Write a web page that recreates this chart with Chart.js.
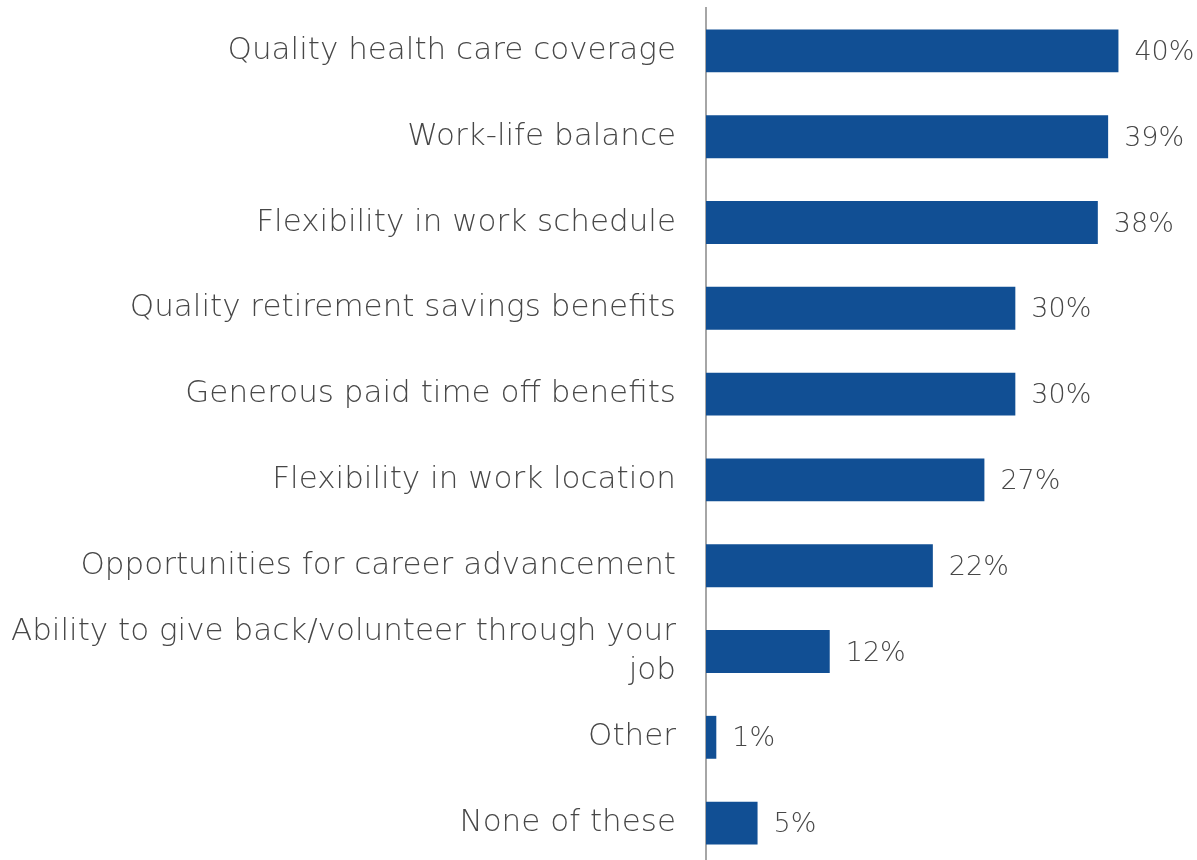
<!DOCTYPE html>
<html>
<head>
<meta charset="utf-8">
<script src="https://cdn.jsdelivr.net/npm/chart.js@4"></script>
<style>
  html, body { margin: 0; padding: 0; background: #fff; overflow: hidden; }
  #wrap { width: 1197px; height: 866px; position: relative; }
</style>
</head>
<body>
<div id="wrap"><canvas id="bars"></canvas></div>
<script>
// Benefit categories, top to bottom
const categories = [
    'Quality health care coverage',
    'Work-life balance',
    'Flexibility in work schedule',
    'Quality retirement savings benefits',
    'Generous paid time off benefits',
    'Flexibility in work location',
    'Opportunities for career advancement',
    ['Ability to give back/volunteer through your', 'job'],
    'Other',
    'None of these'
];

// Share of respondents, in percent
const shares = [40, 39, 38, 30, 30, 27, 22, 12, 1, 5];

const barColor = '#114f94';
const textColor = '#474747';
const fontFamily = '"DejaVu Sans", sans-serif';
const fontWeight = 200;

// Write the percent value just past the end of each bar
const valueLabels = {
    id: 'valueLabels',
    afterDatasetsDraw(chart) {
        const ctx = chart.ctx;
        const meta = chart.getDatasetMeta(0);
        ctx.save();
        ctx.font = fontWeight + ' 27px ' + fontFamily;
        ctx.fillStyle = textColor;
        ctx.textAlign = 'left';
        ctx.textBaseline = 'middle';
        meta.data.forEach((bar, i) => {
            ctx.fillText(shares[i] + '%', bar.x + 16, bar.y + 2);
        });
        ctx.restore();
    }
};

const ctx = document.getElementById('bars').getContext('2d');
const chart = new Chart(ctx, {
    type: 'bar',
    data: {
        labels: categories,
        datasets: [
            {
                data: shares,
                backgroundColor: barColor,
                borderWidth: 0,
                barPercentage: 0.5,
                categoryPercentage: 1.0
            },
        ],
    },
    options: {
        indexAxis: 'y',
        responsive: true,
        maintainAspectRatio: false,
        animation: false,
        layout: {
            padding: { top: 8, right: 27, bottom: 0, left: 0 }
        },
        plugins: {
            legend: { display: false },
            tooltip: { enabled: false }
        },
        scales: {
            x: {
                display: false,
                min: 0,
                max: 45
            },
            y: {
                // fixed label column, no extra room above/below for tick text
                afterFit: (scale) => {
                    scale.width = 706;
                    scale.paddingTop = 0;
                    scale.paddingBottom = 0;
                },
                grid: { display: false, drawTicks: false },
                border: { display: true, color: '#a6a6a6', width: 2 },
                ticks: {
                    padding: 30,
                    color: textColor,
                    font: { family: fontFamily, size: 31, weight: fontWeight, lineHeight: 1.26 }
                }
            }
        }
    },
    plugins: [valueLabels]
});
</script>
</body>
</html>
